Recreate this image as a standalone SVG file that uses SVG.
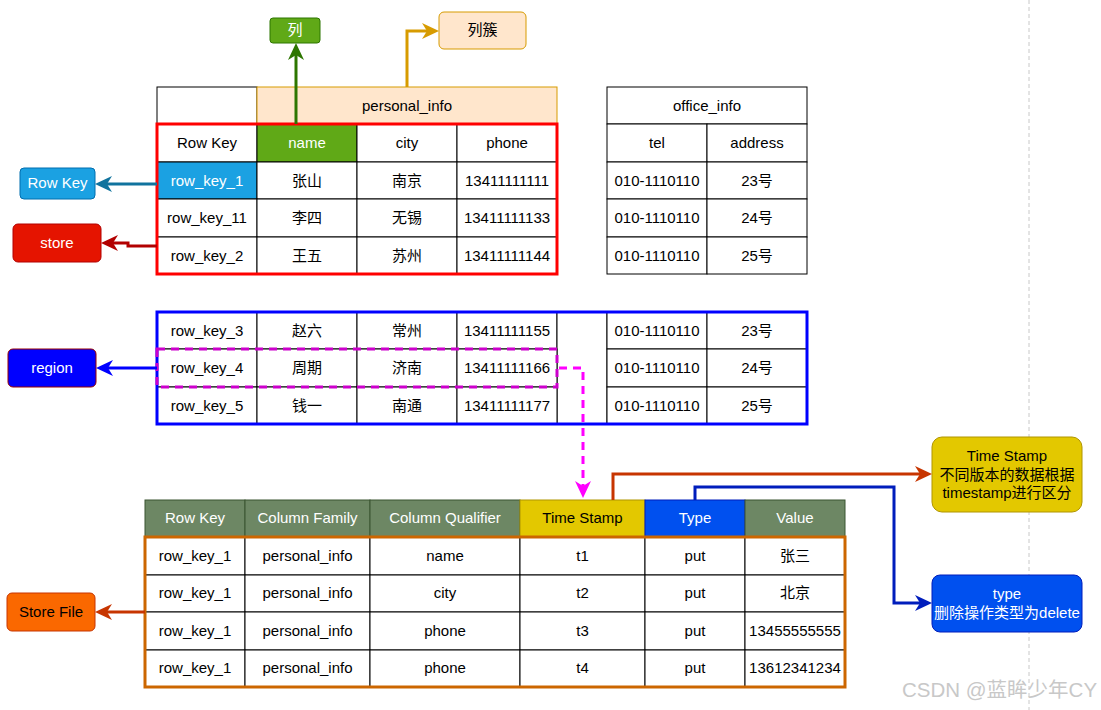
<svg xmlns="http://www.w3.org/2000/svg" width="1101" height="710" viewBox="0 0 1101 710">
<style>
.c{fill:#fff;stroke:#000;stroke-width:1}
.t{font-family:"Liberation Sans",Arial,"Noto Sans CJK SC",sans-serif;font-size:15px;text-anchor:middle;dominant-baseline:central;fill:#000}
.w{fill:#fff}
.ln{fill:none;stroke-width:3}
</style>
<defs>
<marker id="mG" viewBox="0 0 17 16" refX="11" refY="8" markerWidth="17" markerHeight="16" markerUnits="userSpaceOnUse" orient="auto"><path d="M0,0L17,8L0,16L5,8z" fill="#2d7600"/></marker>
<marker id="mO" viewBox="0 0 17 16" refX="11" refY="8" markerWidth="17" markerHeight="16" markerUnits="userSpaceOnUse" orient="auto"><path d="M0,0L17,8L0,16L5,8z" fill="#d79b00"/></marker>
<marker id="mB" viewBox="0 0 17 16" refX="11" refY="8" markerWidth="17" markerHeight="16" markerUnits="userSpaceOnUse" orient="auto"><path d="M0,0L17,8L0,16L5,8z" fill="#10739e"/></marker>
<marker id="mR" viewBox="0 0 17 16" refX="11" refY="8" markerWidth="17" markerHeight="16" markerUnits="userSpaceOnUse" orient="auto"><path d="M0,0L17,8L0,16L5,8z" fill="#b20000"/></marker>
<marker id="mBl" viewBox="0 0 17 16" refX="11" refY="8" markerWidth="17" markerHeight="16" markerUnits="userSpaceOnUse" orient="auto"><path d="M0,0L17,8L0,16L5,8z" fill="#0000ff"/></marker>
<marker id="mM" viewBox="0 0 17 16" refX="11" refY="8" markerWidth="17" markerHeight="16" markerUnits="userSpaceOnUse" orient="auto"><path d="M0,0L17,8L0,16L5,8z" fill="#ff00ff"/></marker>
<marker id="mOR" viewBox="0 0 17 16" refX="11" refY="8" markerWidth="17" markerHeight="16" markerUnits="userSpaceOnUse" orient="auto"><path d="M0,0L17,8L0,16L5,8z" fill="#c73500"/></marker>
<marker id="mDB" viewBox="0 0 17 16" refX="11" refY="8" markerWidth="17" markerHeight="16" markerUnits="userSpaceOnUse" orient="auto"><path d="M0,0L17,8L0,16L5,8z" fill="#001dbc"/></marker>
</defs>
<rect width="1101" height="710" fill="#fff"/>
<line x1="1029" y1="0" x2="1029" y2="710" stroke="#c8c8c8" stroke-width="1" stroke-dasharray="4 3"/>

<g id="table-personal">
<rect class="c" x="157" y="87" width="100" height="37"/>
<rect x="257" y="87" width="300" height="37" fill="#ffe6cc" stroke="#d79b00"/>
<text class="t" x="407" y="105">personal_info</text>
<rect class="c" x="157" y="124" width="100" height="38"/>
<rect x="257" y="124" width="100" height="38" fill="#60a917" stroke="#000"/>
<rect class="c" x="357" y="124" width="100" height="38"/>
<rect class="c" x="457" y="124" width="100" height="38"/>
<text class="t" x="207" y="142">Row Key</text>
<text class="t w" x="307" y="142">name</text>
<text class="t" x="407" y="142">city</text>
<text class="t" x="507" y="142">phone</text>
<rect x="157" y="162" width="100" height="37" fill="#1ba1e2" stroke="#000"/>
<rect class="c" x="257" y="162" width="100" height="37"/>
<rect class="c" x="357" y="162" width="100" height="37"/>
<rect class="c" x="457" y="162" width="100" height="37"/>
<text class="t w" x="207" y="180">row_key_1</text>
<text class="t" x="307" y="180">张山</text>
<text class="t" x="407" y="180">南京</text>
<text class="t" x="507" y="180">13411111111</text>
<rect class="c" x="157" y="199" width="100" height="38"/>
<rect class="c" x="257" y="199" width="100" height="38"/>
<rect class="c" x="357" y="199" width="100" height="38"/>
<rect class="c" x="457" y="199" width="100" height="38"/>
<text class="t" x="207" y="217">row_key_11</text>
<text class="t" x="307" y="217">李四</text>
<text class="t" x="407" y="217">无锡</text>
<text class="t" x="507" y="217">13411111133</text>
<rect class="c" x="157" y="237" width="100" height="37"/>
<rect class="c" x="257" y="237" width="100" height="37"/>
<rect class="c" x="357" y="237" width="100" height="37"/>
<rect class="c" x="457" y="237" width="100" height="37"/>
<text class="t" x="207" y="255">row_key_2</text>
<text class="t" x="307" y="255">王五</text>
<text class="t" x="407" y="255">苏州</text>
<text class="t" x="507" y="255">13411111144</text>
<rect x="157" y="124" width="400" height="150" fill="none" stroke="#ff0000" stroke-width="3"/>
</g>

<g id="table-office">
<rect class="c" x="607" y="87" width="200" height="37"/>
<text class="t" x="707" y="105">office_info</text>
<rect class="c" x="607" y="124" width="100" height="38"/>
<rect class="c" x="707" y="124" width="100" height="38"/>
<text class="t" x="657" y="142">tel</text>
<text class="t" x="757" y="142">address</text>
<rect class="c" x="607" y="162" width="100" height="37"/>
<rect class="c" x="707" y="162" width="100" height="37"/>
<text class="t" x="657" y="180">010-1110110</text>
<text class="t" x="757" y="180">23号</text>
<rect class="c" x="607" y="199" width="100" height="38"/>
<rect class="c" x="707" y="199" width="100" height="38"/>
<text class="t" x="657" y="217">010-1110110</text>
<text class="t" x="757" y="217">24号</text>
<rect class="c" x="607" y="237" width="100" height="37"/>
<rect class="c" x="707" y="237" width="100" height="37"/>
<text class="t" x="657" y="255">010-1110110</text>
<text class="t" x="757" y="255">25号</text>
</g>

<g id="table-region">
<rect class="c" x="157" y="312" width="100" height="37"/>
<rect class="c" x="257" y="312" width="100" height="37"/>
<rect class="c" x="357" y="312" width="100" height="37"/>
<rect class="c" x="457" y="312" width="100" height="37"/>
<rect class="c" x="557" y="312" width="50" height="112"/>
<rect class="c" x="607" y="312" width="100" height="37"/>
<rect class="c" x="707" y="312" width="100" height="37"/>
<text class="t" x="207" y="330">row_key_3</text>
<text class="t" x="307" y="330">赵六</text>
<text class="t" x="407" y="330">常州</text>
<text class="t" x="507" y="330">13411111155</text>
<text class="t" x="657" y="330">010-1110110</text>
<text class="t" x="757" y="330">23号</text>
<rect class="c" x="157" y="349" width="100" height="38"/>
<rect class="c" x="257" y="349" width="100" height="38"/>
<rect class="c" x="357" y="349" width="100" height="38"/>
<rect class="c" x="457" y="349" width="100" height="38"/>
<rect class="c" x="607" y="349" width="100" height="38"/>
<rect class="c" x="707" y="349" width="100" height="38"/>
<text class="t" x="207" y="367">row_key_4</text>
<text class="t" x="307" y="367">周期</text>
<text class="t" x="407" y="367">济南</text>
<text class="t" x="507" y="367">13411111166</text>
<text class="t" x="657" y="367">010-1110110</text>
<text class="t" x="757" y="367">24号</text>
<rect class="c" x="157" y="387" width="100" height="37"/>
<rect class="c" x="257" y="387" width="100" height="37"/>
<rect class="c" x="357" y="387" width="100" height="37"/>
<rect class="c" x="457" y="387" width="100" height="37"/>
<rect class="c" x="607" y="387" width="100" height="37"/>
<rect class="c" x="707" y="387" width="100" height="37"/>
<text class="t" x="207" y="405">row_key_5</text>
<text class="t" x="307" y="405">钱一</text>
<text class="t" x="407" y="405">南通</text>
<text class="t" x="507" y="405">13411111177</text>
<text class="t" x="657" y="405">010-1110110</text>
<text class="t" x="757" y="405">25号</text>
<rect x="157" y="312" width="650" height="112" fill="none" stroke="#0000ff" stroke-width="3"/>
<rect x="157" y="349" width="400" height="38" fill="none" stroke="#cc00cc" stroke-width="3" stroke-dasharray="8 6"/>
</g>

<g id="table-storefile">
<rect x="145" y="500" width="100" height="37" fill="#6d8764" stroke="#3a5431"/>
<rect x="245" y="500" width="125" height="37" fill="#6d8764" stroke="#3a5431"/>
<rect x="370" y="500" width="150" height="37" fill="#6d8764" stroke="#3a5431"/>
<rect x="520" y="500" width="125" height="37" fill="#e3c800" stroke="#b09500"/>
<rect x="645" y="500" width="100" height="37" fill="#0050ef" stroke="#001dbc"/>
<rect x="745" y="500" width="100" height="37" fill="#6d8764" stroke="#3a5431"/>
<text class="t w" x="195" y="517.5">Row Key</text>
<text class="t w" x="307.5" y="517.5">Column Family</text>
<text class="t w" x="445" y="517.5">Column Qualifier</text>
<text class="t" x="582.5" y="517.5">Time Stamp</text>
<text class="t w" x="695" y="517.5">Type</text>
<text class="t w" x="795" y="517.5">Value</text>
<g>
<rect class="c" x="145" y="537" width="100" height="38"/><rect class="c" x="245" y="537" width="125" height="38"/><rect class="c" x="370" y="537" width="150" height="38"/><rect class="c" x="520" y="537" width="125" height="38"/><rect class="c" x="645" y="537" width="100" height="38"/><rect class="c" x="745" y="537" width="100" height="38"/>
<rect class="c" x="145" y="575" width="100" height="37"/><rect class="c" x="245" y="575" width="125" height="37"/><rect class="c" x="370" y="575" width="150" height="37"/><rect class="c" x="520" y="575" width="125" height="37"/><rect class="c" x="645" y="575" width="100" height="37"/><rect class="c" x="745" y="575" width="100" height="37"/>
<rect class="c" x="145" y="612" width="100" height="38"/><rect class="c" x="245" y="612" width="125" height="38"/><rect class="c" x="370" y="612" width="150" height="38"/><rect class="c" x="520" y="612" width="125" height="38"/><rect class="c" x="645" y="612" width="100" height="38"/><rect class="c" x="745" y="612" width="100" height="38"/>
<rect class="c" x="145" y="650" width="100" height="37"/><rect class="c" x="245" y="650" width="125" height="37"/><rect class="c" x="370" y="650" width="150" height="37"/><rect class="c" x="520" y="650" width="125" height="37"/><rect class="c" x="645" y="650" width="100" height="37"/><rect class="c" x="745" y="650" width="100" height="37"/>
</g>
<text class="t" x="195" y="555">row_key_1</text><text class="t" x="307.5" y="555">personal_info</text><text class="t" x="445" y="555">name</text><text class="t" x="582.5" y="555">t1</text><text class="t" x="695" y="555">put</text><text class="t" x="795" y="555">张三</text>
<text class="t" x="195" y="592.5">row_key_1</text><text class="t" x="307.5" y="592.5">personal_info</text><text class="t" x="445" y="592.5">city</text><text class="t" x="582.5" y="592.5">t2</text><text class="t" x="695" y="592.5">put</text><text class="t" x="795" y="592.5">北京</text>
<text class="t" x="195" y="630">row_key_1</text><text class="t" x="307.5" y="630">personal_info</text><text class="t" x="445" y="630">phone</text><text class="t" x="582.5" y="630">t3</text><text class="t" x="695" y="630">put</text><text class="t" x="795" y="630">13455555555</text>
<text class="t" x="195" y="667.5">row_key_1</text><text class="t" x="307.5" y="667.5">personal_info</text><text class="t" x="445" y="667.5">phone</text><text class="t" x="582.5" y="667.5">t4</text><text class="t" x="695" y="667.5">put</text><text class="t" x="795" y="667.5">13612341234</text>
<rect x="145" y="537" width="700" height="150" fill="none" stroke="#cc6600" stroke-width="3"/>
</g>

<g id="node-lie">
<rect x="270" y="18" width="50" height="25" rx="3" fill="#60a917" stroke="#2d7600"/>
<text class="t w" x="295" y="29.5">列</text>
</g>
<g id="node-liecu">
<rect x="439" y="12" width="87" height="37" rx="5" fill="#ffe6cc" stroke="#d79b00"/>
<text class="t" x="482.5" y="29.5">列簇</text>
</g>
<g id="node-rowkey">
<rect x="20" y="168" width="75" height="31" rx="4" fill="#1ba1e2" stroke="#006eaf"/>
<text class="t w" x="57.5" y="182.5">Row Key</text>
</g>
<g id="node-store">
<rect x="13" y="224" width="88" height="38" rx="5" fill="#e51400" stroke="#b20000"/>
<text class="t w" x="57" y="242">store</text>
</g>
<g id="node-region">
<rect x="8" y="349" width="88" height="38" rx="5" fill="#0000ff" stroke="#990000"/>
<text class="t w" x="52" y="367">region</text>
</g>
<g id="node-storefile">
<rect x="7" y="593" width="88" height="38" rx="5" fill="#fa6800" stroke="#c73500"/>
<text class="t" x="51" y="611">Store File</text>
</g>
<g id="node-timestamp">
<rect x="932" y="437" width="150" height="75" rx="10" fill="#e3c800" stroke="#b09500"/>
<text class="t" x="1007" y="455.5">Time Stamp</text>
<text class="t" x="1007" y="474">不同版本的数据根据</text>
<text class="t" x="1007" y="492.5">timestamp进行区分</text>
</g>
<g id="node-type">
<rect x="932" y="575" width="150" height="57" rx="8" fill="#0050ef" stroke="#001dbc"/>
<text class="t w" x="1007" y="593.5">type</text>
<text class="t w" x="1007" y="612">删除操作类型为delete</text>
</g>

<g id="connectors">
<path class="ln" d="M296,124V49" stroke="#2d7600" marker-end="url(#mG)"/>
<path class="ln" d="M407,87V31H433" stroke="#d79b00" marker-end="url(#mO)"/>
<path class="ln" d="M157,184H101" stroke="#10739e" marker-end="url(#mB)"/>
<path class="ln" d="M157,246H128V243H107" stroke="#b20000" marker-end="url(#mR)"/>
<path class="ln" d="M157,368H102" stroke="#0000ff" marker-end="url(#mBl)"/>
<path class="ln" d="M559,368H583V492" stroke="#ff00ff" stroke-dasharray="8 6" marker-end="url(#mM)"/>
<path class="ln" d="M145,612H101" stroke="#c73500" marker-end="url(#mOR)"/>
<path class="ln" d="M613,500V474H926" stroke="#c73500" marker-end="url(#mOR)"/>
<path class="ln" d="M695,500V487H894V603H926" stroke="#001dbc" marker-end="url(#mDB)"/>
</g>

<text x="902" y="697" font-family="Liberation Sans,Arial,'Noto Sans CJK SC',sans-serif" font-size="20.5" fill="#c8c8c8">CSDN @蓝眸少年CY</text>
</svg>
